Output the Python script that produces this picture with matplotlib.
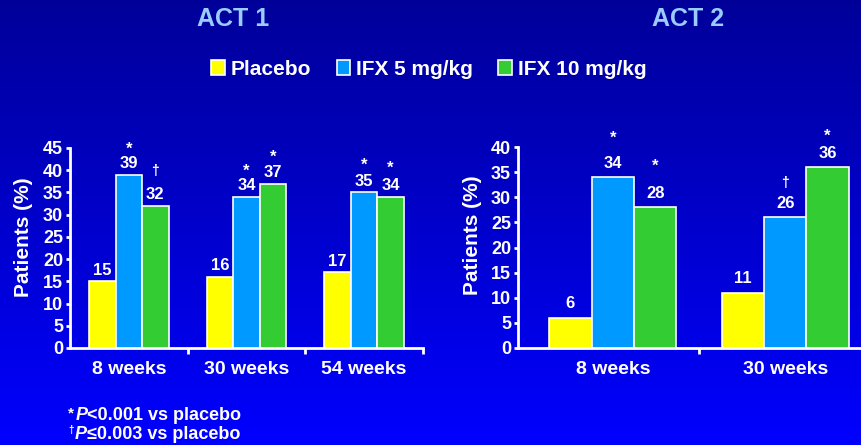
import numpy as np
import matplotlib.pyplot as plt
from matplotlib.patches import Patch
from matplotlib.colors import LinearSegmentedColormap

plt.rcParams['font.family'] = ['Liberation Sans', 'DejaVu Sans']
plt.rcParams['font.weight'] = 'bold'

# --- data ---
series = ['Placebo', 'IFX 5 mg/kg', 'IFX 10 mg/kg']
colors = ['#FFFF00', '#0099FF', '#33CC33']

act1_weeks = ['8 weeks', '30 weeks', '54 weeks']
act1_placebo = [15, 16, 17]
act1_ifx5 = [39, 34, 35]
act1_ifx10 = [32, 37, 34]
act1_sig5 = ['*', '*', '*']
act1_sig10 = ['†', '*', '*']

act2_weeks = ['8 weeks', '30 weeks']
act2_placebo = [6, 11]
act2_ifx5 = [34, 26]
act2_ifx10 = [28, 36]
act2_sig5 = ['*', '†']
act2_sig10 = ['*', '*']

W, H = 861, 445
fig = plt.figure(figsize=(W / 100, H / 100), dpi=100)

# blue gradient backdrop
bg = fig.add_axes([0, 0, 1, 1], zorder=-10)
cmap = LinearSegmentedColormap.from_list('bg', ['#000099', '#0000FF'])
bg.imshow(np.linspace(0, 1, 256)[:, None], aspect='auto', cmap=cmap,
          extent=[0, 1, 0, 1], origin='upper')
bg.axis('off')


def panel(rect, weeks, values, sigs, width, ymax, xlim, val_lift, sig_lift, ylab_xy):
    ax = fig.add_axes(rect)
    ax.set_facecolor('none')
    x = np.arange(len(weeks))
    for i, (vals, col) in enumerate(zip(values, colors)):
        pos = x + (i - 1) * width
        ax.bar(pos, vals, width, color=col, edgecolor='white', linewidth=1.2, zorder=3)
        for j, (xp, v) in enumerate(zip(pos, vals)):
            ax.annotate(str(v), (xp, v), xytext=(0, val_lift), textcoords='offset points',
                        ha='center', va='baseline', color='white', fontsize=12)
            if i > 0:
                s = sigs[i - 1][j]
                ax.annotate(s, (xp, v), xytext=(0, sig_lift[i - 1][j]),
                            textcoords='offset points', ha='center', va='baseline',
                            color='white', fontsize=12 if s == '*' else 10)
    ax.set_xlim(*xlim)
    ax.set_ylim(0, ymax)
    ax.set_yticks(range(0, ymax + 1, 5))
    ax.set_xticks(x, weeks)
    ax.set_xticks(np.arange(0.5, len(weeks)), minor=True)
    for side in ['top', 'right']:
        ax.spines[side].set_visible(False)
    for side in ['left', 'bottom']:
        ax.spines[side].set_color('white')
        ax.spines[side].set_linewidth(2)
    ax.tick_params(axis='x', which='major', length=0, pad=9, labelsize=14, labelcolor='white')
    ax.tick_params(axis='x', which='minor', length=4, width=2, color='white')
    ax.tick_params(axis='y', length=3, width=2, pad=2, color='white',
                   labelsize=13, labelcolor='white')
    ax.text(*ylab_xy, 'Patients (%)', transform=ax.transAxes, rotation=90,
            ha='center', va='center', color='white', fontsize=15)
    return ax


panel([70 / W, 97 / H, 353 / W, 200 / H], act1_weeks,
      [act1_placebo, act1_ifx5, act1_ifx10], [act1_sig5, act1_sig10],
      0.225, 45, (-0.5, 2.5), 4.7,
      [[15, 15, 16.5], [22, 15.5, 17.5]], (-0.133, 0.555))

panel([518 / W, 97 / H, 362 / W, 201 / H], act2_weeks,
      [act2_placebo, act2_ifx5, act2_ifx10], [act2_sig5, act2_sig10],
      0.246, 40, (-0.55, 1.55), 6.8,
      [[25, 21.5], [26.5, 19]], (-0.127, 0.562))

# panel titles
fig.text(233 / W, 1 - 19.5 / H, 'ACT 1', ha='center', va='center', fontsize=18, color='#99CCFF')
fig.text(688 / W, 1 - 19.5 / H, 'ACT 2', ha='center', va='center', fontsize=18, color='#99CCFF')

# shared legend
handles = [Patch(facecolor=c, edgecolor='white', linewidth=1.2, label=s)
           for c, s in zip(colors, series)]
fig.legend(handles=handles, loc='center', bbox_to_anchor=(429 / W, 1 - 69 / H), ncol=3,
           frameon=False, fontsize=15, labelcolor='white', handlelength=0.65,
           handleheight=0.7, handletextpad=0.3, columnspacing=1.2)

# footnotes: small raised mark, italic P, then the rest
notes = [('*', 11, 1.5, '<0.001 vs placebo', 420), ('†', 7, 4, '≤0.003 vs placebo', 439)]
for mark, msize, raise_pt, rest, base in notes:
    yb = 1 - base / H
    t0 = plt.annotate(mark, xy=(68 / W, yb), xycoords='figure fraction', xytext=(0, raise_pt),
                      textcoords='offset points', fontsize=msize, color='white',
                      va='baseline', annotation_clip=False)
    t1 = plt.annotate('P', xy=(1, yb), xycoords=(t0, 'figure fraction'), xytext=(1, 0),
                      textcoords='offset points', fontsize=13, style='italic',
                      color='white', va='baseline', annotation_clip=False)
    plt.annotate(rest, xy=(1, yb), xycoords=(t1, 'figure fraction'), fontsize=13,
                 color='white', va='baseline', annotation_clip=False)

fig.savefig('out.png', dpi=100)
